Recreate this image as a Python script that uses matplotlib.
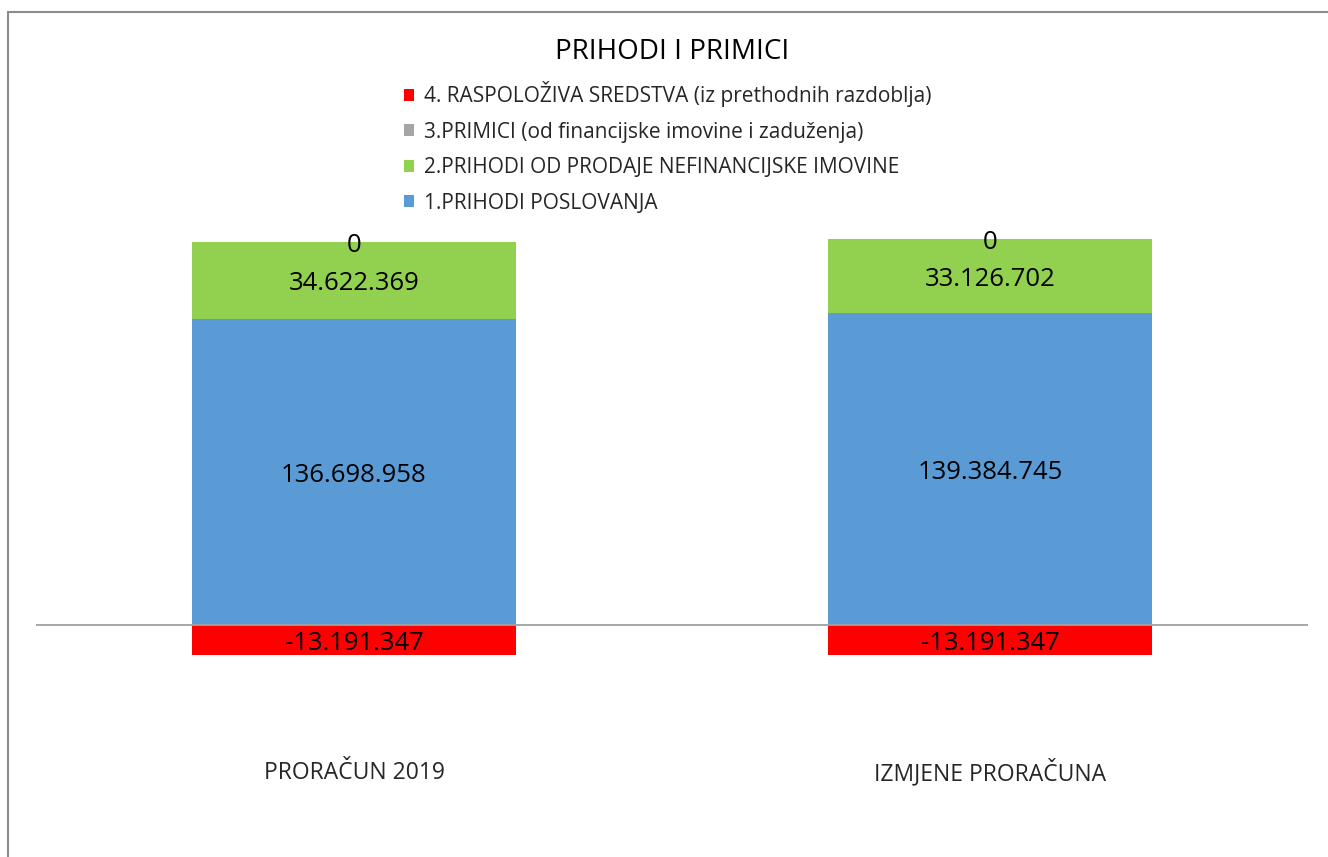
import matplotlib
matplotlib.use("Agg")
import matplotlib.pyplot as plt
from matplotlib.patches import Rectangle, Patch
import matplotlib.transforms as mtransforms

categories = ["PRORAČUN 2019", "IZMJENE PRORAČUNA"]
prihodi_poslovanja = [136698958, 139384745]
prihodi_prodaje = [34622369, 33126702]
primici = [0, 0]
raspoloziva = [-13191347, -13191347]
series_names = ["1.PRIHODI POSLOVANJA",
                "2.PRIHODI OD PRODAJE NEFINANCIJSKE IMOVINE",
                "3.PRIMICI (od financijske imovine i zaduženja)",
                "4. RASPOLOŽIVA SREDSTVA (iz prethodnih razdoblja)"]
title = "PRIHODI I PRIMICI"

colors = ["#5B9BD5", "#92D050", "#A5A5A5", "#FF0000"]
FONT = ["Open Sans", "DejaVu Sans"]
plt.rcParams['font.family'] = FONT

W, H = 1328, 857
fig = plt.figure(figsize=(W / 100, H / 100), dpi=100)

def fx(px):
    return px / W

def fy(py):
    return 1 - py / H

# outer chart border (cropped on right and bottom)
fig.patches.append(Rectangle((fx(8), -0.1), 1.2, fy(12) + 0.1, transform=fig.transFigure,
                             fill=False, edgecolor="#8C8C8C", linewidth=1.5, zorder=0))

ymin, ymax = -45e6, 175e6
top_px = 625 - 175 * 2.238
bot_px = 625 + 45 * 2.238
ax = fig.add_axes([fx(36), fy(bot_px), fx(1308 - 36), (bot_px - top_px) / H])
ax.set_xlim(-0.5, 1.5)
ax.set_ylim(ymin, ymax)
ax.axis("off")

x = list(range(len(categories)))
bw = 0.511

def fmt(v):
    s = f"{abs(int(v)):,}".replace(",", ".")
    return ("-" if v < 0 else "") + s

ax.bar(x, prihodi_poslovanja, bw, color=colors[0], zorder=2)
ax.bar(x, prihodi_prodaje, bw, bottom=prihodi_poslovanja, color=colors[1], zorder=2)
bottom3 = [a + b for a, b in zip(prihodi_poslovanja, prihodi_prodaje)]
ax.bar(x, primici, bw, bottom=bottom3, color=colors[2], zorder=2)
ax.bar(x, raspoloziva, bw, color=colors[3], zorder=2)

ax.axhline(0, color="#A0A0A0", linewidth=1.3, zorder=3)

fs = 18.5
lbl_tr = ax.transData + mtransforms.ScaledTranslation(0, -3.5 / 100, fig.dpi_scale_trans)
for i in x:
    ax.text(i, prihodi_poslovanja[i] / 2, fmt(prihodi_poslovanja[i]), ha="center", va="center", fontsize=fs, zorder=4, transform=lbl_tr)
    ax.text(i, prihodi_poslovanja[i] + prihodi_prodaje[i] / 2, fmt(prihodi_prodaje[i]), ha="center", va="center", fontsize=fs, zorder=4, transform=lbl_tr)
    ax.text(i, bottom3[i] + primici[i] / 2, fmt(primici[i]), ha="center", va="center", fontsize=fs, zorder=4, transform=lbl_tr)
    ax.text(i, raspoloziva[i] / 2, fmt(raspoloziva[i]), ha="center", va="center", fontsize=fs, zorder=4, transform=lbl_tr)

trans = mtransforms.blended_transform_factory(ax.transData, fig.transFigure)
for i, c in enumerate(categories):
    ax.text(i, fy(773), c, transform=trans, ha="center", va="center", fontsize=16.5, color="#262626")

fig.text(fx(672), fy(52), title, ha="center", va="center", fontsize=20, color="#000000")

handles = [Patch(facecolor=colors[k], edgecolor="none") for k in [3, 2, 1, 0]]
labels = [series_names[k] for k in [3, 2, 1, 0]]
leg = fig.legend(handles, labels, loc="upper left", bbox_to_anchor=(fx(404), fy(81)),
                 frameon=False, fontsize=15, handlelength=0.5, handleheight=0.5,
                 handletextpad=0.45, labelspacing=0.7, borderaxespad=0, borderpad=0)
for t in leg.get_texts():
    t.set_color("#262626")

fig.savefig("out.png", dpi=100)
